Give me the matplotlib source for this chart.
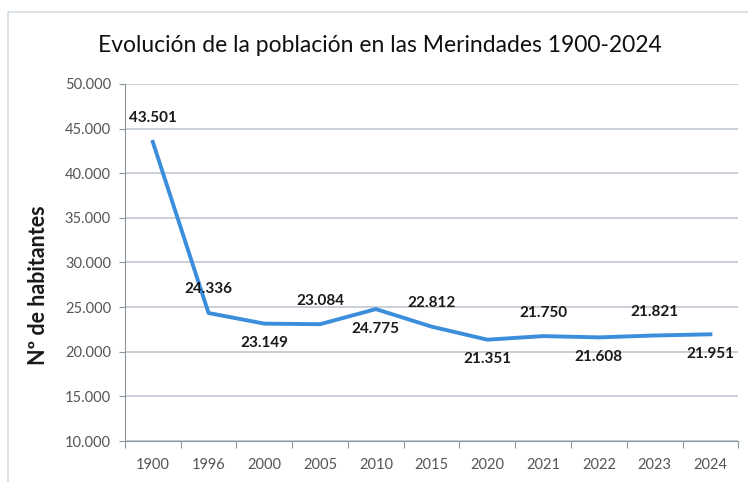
import matplotlib.pyplot as plt
from matplotlib.patches import Rectangle
from matplotlib.ticker import FuncFormatter

plt.rcParams['font.family'] = ['Lato', 'DejaVu Sans']

years = ['1900', '1996', '2000', '2005', '2010', '2015', '2020', '2021', '2022', '2023', '2024']
habitantes = [43501, 24336, 23149, 23084, 24775, 22812, 21351, 21750, 21608, 21821, 21951]
# posicion de cada etiqueta: 1 arriba, -1 abajo
lado = [1, 1, -1, 1, -1, 1, -1, 1, -1, 1, -1]

fig = plt.figure(figsize=(7.48, 4.82), dpi=100)
ax = fig.add_axes([0.167, 0.085, 0.82, 0.741])

# marco exterior del grafico
fig.patches.append(Rectangle((8 / 748, -0.1), 1.2, 1.1 - 12 / 482, transform=fig.transFigure,
                             fill=False, edgecolor='#d3dbe3', linewidth=1.2))

x = list(range(len(years)))
ax.plot(x, habitantes, color='#3a8edc', linewidth=2.8, solid_joinstyle='round', zorder=3)

def fmt(v):
    return f'{v:,.0f}'.replace(',', '.')

for xi, v, s in zip(x, habitantes, lado):
    off = 17 if s > 0 else -14
    ax.annotate(fmt(v), (xi, v), xytext=(0, off), textcoords='offset points',
                ha='center', va='center', fontsize=11, color='#1a1a1a', fontweight='bold')

ax.set_xlim(-0.5, len(years) - 0.5)
ax.set_ylim(10000, 50000)
ax.set_yticks(range(10000, 50001, 5000))
ax.yaxis.set_major_formatter(FuncFormatter(lambda v, p: fmt(v)))
ax.grid(axis='y', color='#c4ccd4', linewidth=1.3)
ax.set_axisbelow(True)

ax.set_xticks([i - 0.5 for i in range(len(years) + 1)])
ax.set_xticklabels([])
ax.set_xticks(x, minor=True)
ax.set_xticklabels(years, minor=True)
ax.tick_params(axis='x', which='major', length=5, color='#8c959e', direction='out')
ax.tick_params(axis='x', which='minor', length=0, labelsize=10.5, labelcolor='#555555', pad=12)
ax.tick_params(axis='y', length=4, color='#8c959e', labelsize=10.5, labelcolor='#555555', pad=6)

for s in ['top', 'right']:
    ax.spines[s].set_visible(False)
ax.spines['left'].set_color('#8c959e')
ax.spines['bottom'].set_color('#8c959e')

ax.set_ylabel('Nº de habitantes', fontsize=15.5, fontweight='bold', color='#1a1a1a')
ax.yaxis.set_label_coords(-0.123, 0.437)
fig.text(0.508, 0.905, 'Evolución de la población en las Merindades 1900-2024',
         ha='center', va='center', fontsize=16.5, color='#111111')

fig.savefig('out.png', dpi=100)
